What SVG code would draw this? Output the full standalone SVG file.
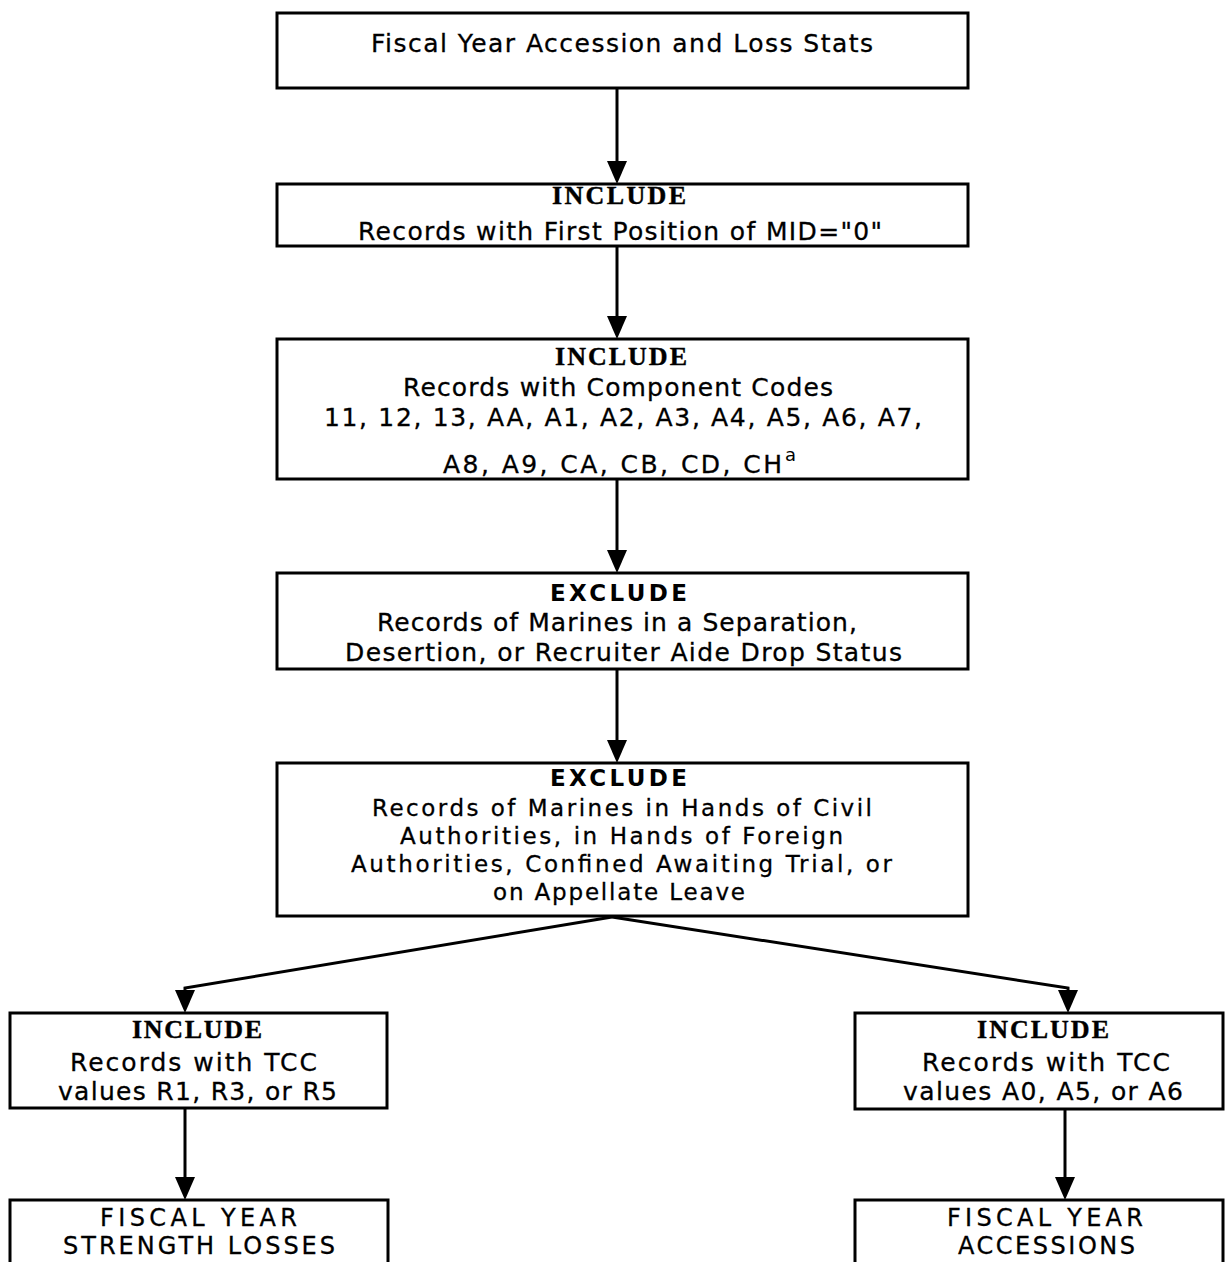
<svg xmlns="http://www.w3.org/2000/svg" width="1227" height="1262" viewBox="0 0 1227 1262">
<defs>
<style>
.box{fill:#fff;stroke:#000;stroke-width:3}
.t{font-family:"DejaVu Sans","Liberation Sans",sans-serif;font-size:25px;fill:#000;stroke:#000;stroke-width:0.3}
.big{font-size:25px}
.cap{font-size:24px}
.sm{font-size:23px}
.inc{font-family:"Liberation Serif","DejaVu Serif",serif;font-weight:bold;font-size:26px;fill:#000;stroke:#000;stroke-width:0.4}
.exc{font-family:"DejaVu Sans","Liberation Sans",sans-serif;font-weight:bold;font-size:23px;fill:#000}
.sup{font-family:"DejaVu Sans","Liberation Sans",sans-serif;font-size:18px;fill:#000}
.ln{fill:none;stroke:#000;stroke-width:3}
</style>
</defs>
<rect width="1227" height="1262" fill="#fff"/>

<g id="connectors">
<line class="ln" x1="617" y1="88" x2="617" y2="161"/>
<path d="M607,161 L627,161 L617,184 Z"/>
<line class="ln" x1="617" y1="246" x2="617" y2="316"/>
<path d="M607,316 L627,316 L617,339 Z"/>
<line class="ln" x1="617" y1="479" x2="617" y2="550"/>
<path d="M607,550 L627,550 L617,573 Z"/>
<line class="ln" x1="617" y1="669" x2="617" y2="740"/>
<path d="M607,740 L627,740 L617,763 Z"/>
<polyline class="ln" points="612,917 185,988 185,992"/>
<path d="M175,990 L195,990 L185,1013 Z"/>
<polyline class="ln" points="612,917 1068,988 1068,992"/>
<path d="M1058,990 L1078,990 L1068,1013 Z"/>
<line class="ln" x1="185" y1="1108" x2="185" y2="1177"/>
<path d="M175,1177 L195,1177 L185,1200 Z"/>
<line class="ln" x1="1065" y1="1109" x2="1065" y2="1177"/>
<path d="M1055,1177 L1075,1177 L1065,1200 Z"/>
</g>

<g id="n1">
<rect class="box" x="277" y="13" width="691" height="75"/>
<text class="t big" x="371" y="52" textLength="502" lengthAdjust="spacing">Fiscal Year Accession and Loss Stats</text>
</g>

<g id="n2">
<rect class="box" x="277" y="184" width="691" height="62"/>
<text class="inc" x="552" y="204" textLength="134" lengthAdjust="spacing">INCLUDE</text>
<text class="t" x="358" y="240" textLength="524" lengthAdjust="spacing">Records with First Position of MID="0"</text>
</g>

<g id="n3">
<rect class="box" x="277" y="339" width="691" height="140"/>
<text class="inc" x="555" y="365" textLength="132" lengthAdjust="spacing">INCLUDE</text>
<text class="t" x="403" y="396" textLength="430" lengthAdjust="spacing">Records with Component Codes</text>
<text class="t" x="324" y="426" textLength="598" lengthAdjust="spacing">11, 12, 13, AA, A1, A2, A3, A4, A5, A6, A7,</text>
<text class="t" x="443" y="473" textLength="339" lengthAdjust="spacing">A8, A9, CA, CB, CD, CH</text>
<text class="sup" x="785" y="461">a</text>
</g>

<g id="n4">
<rect class="box" x="277" y="573" width="691" height="96"/>
<text class="exc" x="550" y="601" textLength="137" lengthAdjust="spacing">EXCLUDE</text>
<text class="t" x="377" y="631" textLength="480" lengthAdjust="spacing">Records of Marines in a Separation,</text>
<text class="t" x="345" y="661" textLength="557" lengthAdjust="spacing">Desertion, or Recruiter Aide Drop Status</text>
</g>

<g id="n5">
<rect class="box" x="277" y="763" width="691" height="153"/>
<text class="exc" x="550" y="786" textLength="137" lengthAdjust="spacing">EXCLUDE</text>
<text class="t sm" x="372" y="816" textLength="500" lengthAdjust="spacing">Records of Marines in Hands of Civil</text>
<text class="t sm" x="400" y="844" textLength="443" lengthAdjust="spacing">Authorities, in Hands of Foreign</text>
<text class="t sm" x="351" y="872" textLength="541" lengthAdjust="spacing">Authorities, Confined Awaiting Trial, or</text>
<text class="t sm" x="493" y="900" textLength="252" lengthAdjust="spacing">on Appellate Leave</text>
</g>

<g id="n6">
<rect class="box" x="10" y="1013" width="377" height="95"/>
<text class="inc" x="132" y="1038" textLength="130" lengthAdjust="spacing">INCLUDE</text>
<text class="t big" x="70" y="1071" textLength="247" lengthAdjust="spacing">Records with TCC</text>
<text class="t big" x="58" y="1100" textLength="279" lengthAdjust="spacing">values R1, R3, or R5</text>
</g>

<g id="n7">
<rect class="box" x="10" y="1200" width="378" height="80"/>
<text class="t cap" x="100" y="1226" textLength="197" lengthAdjust="spacing">FISCAL YEAR</text>
<text class="t cap" x="63" y="1254" textLength="272" lengthAdjust="spacing">STRENGTH LOSSES</text>
</g>

<g id="n8">
<rect class="box" x="855" y="1013" width="368" height="96"/>
<text class="inc" x="977" y="1038" textLength="132" lengthAdjust="spacing">INCLUDE</text>
<text class="t big" x="922" y="1071" textLength="248" lengthAdjust="spacing">Records with TCC</text>
<text class="t big" x="903" y="1100" textLength="280" lengthAdjust="spacing">values A0, A5, or A6</text>
</g>

<g id="n9">
<rect class="box" x="855" y="1200" width="368" height="80"/>
<text class="t cap" x="947" y="1226" textLength="196" lengthAdjust="spacing">FISCAL YEAR</text>
<text class="t cap" x="958" y="1254" textLength="177" lengthAdjust="spacing">ACCESSIONS</text>
</g>
</svg>
